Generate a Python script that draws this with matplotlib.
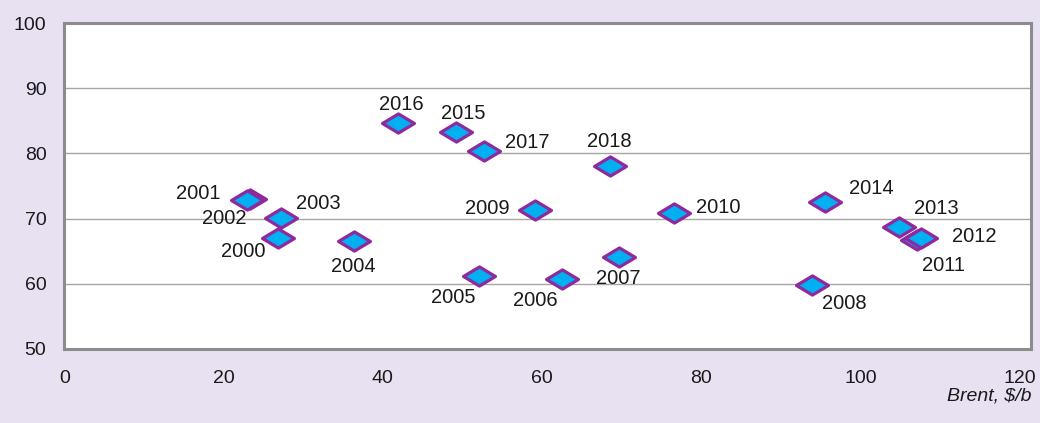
import matplotlib.pyplot as plt
import numpy as np
from matplotlib.path import Path

# Brent price vs. value
years = ['2000', '2001', '2002', '2003', '2004', '2005', '2006', '2007', '2008', '2009',
         '2010', '2011', '2012', '2013', '2014', '2015', '2016', '2017', '2018']
brent = [26.8, 23.3, 22.9, 27.2, 36.4, 52.1, 62.5, 69.7, 93.9, 59.1,
         76.6, 107.1, 107.6, 104.8, 95.5, 49.2, 41.9, 52.7, 68.5]
values = [67.0, 73.0, 72.8, 70.1, 66.6, 61.2, 60.7, 64.1, 59.8, 71.3,
          70.9, 66.7, 67.0, 68.7, 72.5, 83.3, 84.7, 80.4, 78.1]

# label offsets in pixels (dx, dy) relative to each point
label_offsets = {
    '2000': (-35, -13), '2001': (-52, 6), '2002': (-22, -18), '2003': (37, 14),
    '2004': (-1, -26), '2005': (-26, -22), '2006': (-27, -21), '2007': (-1, -21),
    '2008': (33, -18), '2009': (-48, 2), '2010': (44, 5), '2011': (27, -25),
    '2012': (53, 2), '2013': (38, 19), '2014': (47, 14), '2015': (7, 18),
    '2016': (3, 18), '2017': (43, 8), '2018': (0, 24),
}

bg = '#e8e1f1'
font = 'Liberation Sans'

fig = plt.figure(figsize=(10.4, 4.23), dpi=100, facecolor=bg)
ax = fig.add_axes([0.062, 0.175, 0.929, 0.7705])
ax.set_facecolor('white')

diamond = Path([(-1, 0), (0, 0.6), (1, 0), (0, -0.6), (-1, 0)],
               [Path.MOVETO, Path.LINETO, Path.LINETO, Path.LINETO, Path.CLOSEPOLY])

ax.plot(brent, values, linestyle='none', marker=diamond, markersize=23,
        markerfacecolor='#00b0f0', markeredgecolor='#8f2a9e', markeredgewidth=2.3,
        zorder=3)

for x, y, yr in zip(brent, values, years):
    dx, dy = label_offsets[yr]
    ax.annotate(yr, (x, y), xytext=(dx, dy), textcoords='offset pixels',
                ha='center', va='center', fontsize=14.5, family=font,
                color='#1a1a1a', zorder=4)

ax.set_xlim(0, 121.4)
ax.set_ylim(50, 100)
ax.set_xticks(np.arange(0, 121, 20))
ax.set_yticks(np.arange(50, 101, 10))
ax.grid(axis='y', color='#a6a6a6', linewidth=1)
ax.set_axisbelow(True)
for s in ax.spines.values():
    s.set_color('#8c8c8c')
    s.set_linewidth(2.2)
ax.tick_params(length=0, pad=13, labelsize=14, labelcolor='#1a1a1a')
ax.tick_params(axis='x', pad=15)
for lab in ax.get_xticklabels() + ax.get_yticklabels():
    lab.set_family(font)

fig.text(0.992, 0.064, 'Brent, $/b', ha='right', va='center', style='italic',
         fontsize=14, family=font, color='#1a1a1a')

plt.savefig('out.png', dpi=100, facecolor=bg)
